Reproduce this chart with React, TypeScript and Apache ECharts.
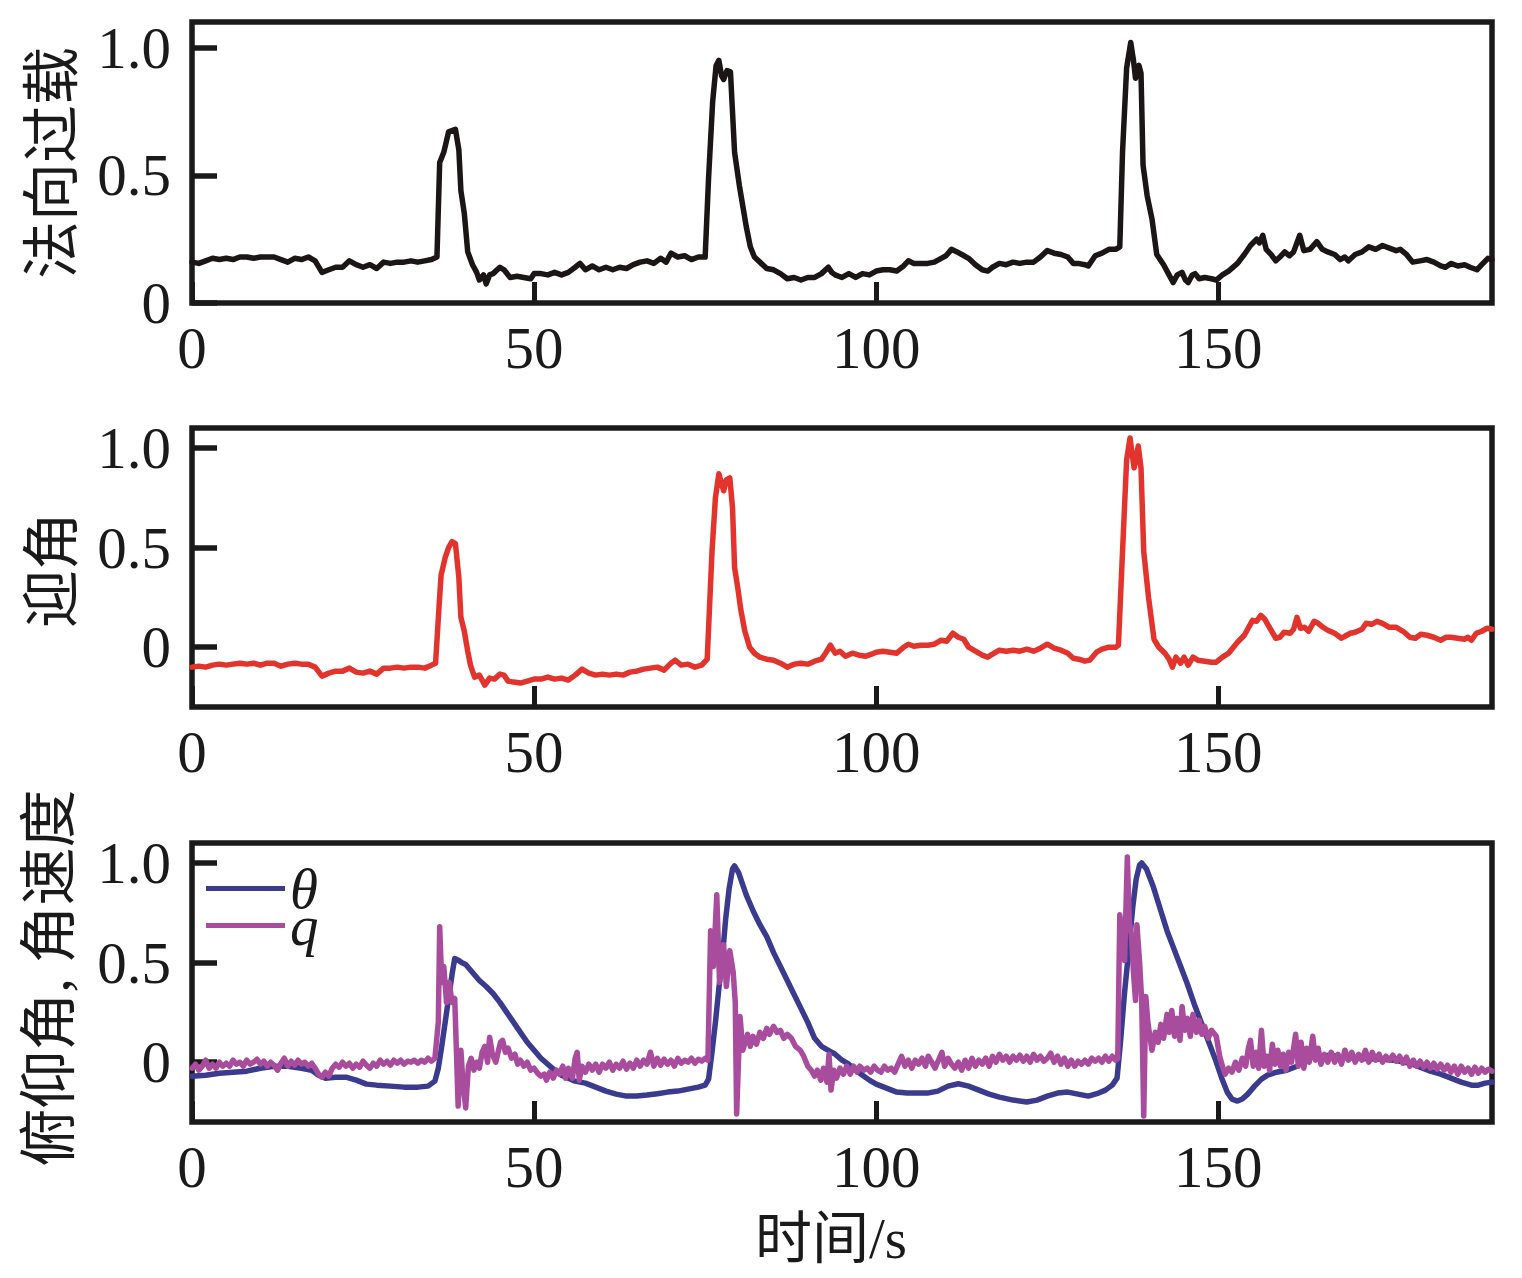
import React, { useEffect, useRef } from "react";
import * as echarts from "echarts";

const xTicks = [0, 50, 100, 150];
const yTicks = [0, 0.5, 1.0];
const panelTitles = ["法向过载", "迎角", "俯仰角, 角速度"];
const xTitle = "时间/s";
const legendNames = ["θ", "q"];

// 法向过载 (normal load)
const normalLoad: number[][] = [
  [0, 0.16], [1, 0.155], [2, 0.165], [3, 0.175], [4, 0.17], [5, 0.175], [6, 0.17], [7, 0.18], [8, 0.18], [9, 0.175],
  [10, 0.18], [11, 0.18], [12, 0.18], [13, 0.17], [14, 0.16], [15, 0.175], [16, 0.17], [17, 0.18], [18, 0.165], [19, 0.12],
  [20, 0.13], [21, 0.14], [22, 0.14], [23, 0.165], [24, 0.15], [25, 0.14], [26, 0.15], [27, 0.135], [28, 0.16], [29, 0.155],
  [30, 0.16], [31, 0.16], [32, 0.165], [33, 0.16], [34, 0.165], [35, 0.17], [35.8, 0.18], [36.2, 0.55], [36.8, 0.59], [37.5, 0.67],
  [38.5, 0.68], [39, 0.6], [39.3, 0.44], [39.8, 0.35], [40.3, 0.2], [41, 0.15], [41.6, 0.12], [42, 0.09], [42.6, 0.11], [43, 0.075],
  [43.5, 0.11], [44, 0.115], [45, 0.14], [45.6, 0.13], [46.5, 0.1], [47.5, 0.105], [48.5, 0.1], [49.5, 0.095], [50, 0.115], [51, 0.115],
  [52, 0.11], [53, 0.12], [54, 0.11], [55, 0.12], [56, 0.14], [56.7, 0.155], [57.5, 0.13], [58.5, 0.145], [59.5, 0.13], [60.5, 0.14],
  [61.5, 0.13], [62.5, 0.14], [63.5, 0.135], [64.5, 0.15], [65.5, 0.16], [66.5, 0.165], [67.5, 0.155], [68.5, 0.175], [69.3, 0.16], [70, 0.195],
  [71, 0.18], [72, 0.185], [73, 0.17], [74, 0.18], [75, 0.18], [75.5, 0.49], [76.1, 0.79], [76.6, 0.93], [77, 0.95], [77.4, 0.89],
  [77.7, 0.875], [78.2, 0.91], [78.7, 0.905], [79.3, 0.59], [80, 0.46], [80.5, 0.38], [81, 0.3], [81.6, 0.22], [82.2, 0.18], [83, 0.16],
  [84, 0.135], [85, 0.13], [86, 0.115], [87, 0.095], [88, 0.1], [89, 0.09], [90, 0.1], [91, 0.1], [92, 0.115], [93, 0.14],
  [93.5, 0.12], [94, 0.11], [95, 0.1], [96, 0.115], [97, 0.1], [98, 0.115], [99, 0.11], [100, 0.125], [101, 0.13], [102, 0.13],
  [103, 0.125], [104, 0.145], [104.7, 0.165], [105.5, 0.155], [106.5, 0.155], [107.5, 0.155], [108.5, 0.16], [109.5, 0.175], [110.2, 0.185], [111, 0.21],
  [111.8, 0.2], [112.5, 0.19], [113.5, 0.175], [114.5, 0.15], [115.5, 0.13], [116.3, 0.125], [117, 0.14], [118, 0.155], [119, 0.15], [120, 0.16],
  [121, 0.155], [122, 0.16], [123, 0.16], [124, 0.18], [125, 0.205], [126, 0.195], [127, 0.19], [128, 0.18], [128.8, 0.155], [129.5, 0.155],
  [130.5, 0.15], [131, 0.145], [132, 0.185], [133, 0.195], [134, 0.21], [135, 0.21], [135.6, 0.22], [136, 0.59], [136.6, 0.92], [137.2, 1.02],
  [137.6, 0.95], [137.9, 0.88], [138.4, 0.93], [138.7, 0.9], [139, 0.54], [139.6, 0.42], [140.3, 0.33], [141, 0.19], [142, 0.15], [142.6, 0.12],
  [143.4, 0.08], [144, 0.11], [144.7, 0.12], [145.2, 0.09], [145.6, 0.08], [146.2, 0.11], [146.6, 0.115], [147.2, 0.095], [148, 0.1], [149, 0.095],
  [149.7, 0.09], [150.6, 0.11], [151.5, 0.125], [152.8, 0.155], [153.8, 0.19], [154.7, 0.225], [155.6, 0.25], [156, 0.235], [156.5, 0.265], [157, 0.21],
  [157.7, 0.19], [158.4, 0.165], [159, 0.18], [159.7, 0.2], [160.4, 0.185], [161, 0.2], [161.9, 0.265], [162.5, 0.205], [163.4, 0.21], [164.4, 0.24],
  [165.2, 0.21], [166, 0.2], [167, 0.19], [167.8, 0.17], [168.5, 0.18], [169, 0.165], [170, 0.19], [171, 0.2], [172, 0.22], [173, 0.21],
  [174, 0.225], [175, 0.215], [176, 0.205], [176.6, 0.21], [177.5, 0.19], [178.4, 0.16], [179.5, 0.165], [180.5, 0.17], [181.5, 0.16], [182.5, 0.145],
  [183.2, 0.14], [184, 0.155], [185, 0.145], [186, 0.15], [186.8, 0.14], [187.8, 0.13], [188.5, 0.15], [189.4, 0.175], [190, 0.17],
];

// 迎角 (angle of attack)
const attackAngle: number[][] = [
  [0, -0.1], [1, -0.095], [2, -0.1], [3, -0.09], [4, -0.085], [5, -0.09], [6, -0.085], [7, -0.08], [8, -0.085], [9, -0.08],
  [10, -0.09], [11, -0.08], [12, -0.08], [13, -0.095], [14, -0.085], [15, -0.08], [16, -0.085], [17, -0.085], [18, -0.1], [19, -0.145],
  [20, -0.13], [21, -0.12], [22, -0.12], [23, -0.105], [24, -0.125], [25, -0.13], [26, -0.12], [27, -0.135], [28, -0.105], [29, -0.105],
  [30, -0.1], [31, -0.105], [32, -0.1], [33, -0.1], [34, -0.105], [35, -0.09], [35.6, -0.08], [36.1, 0.2], [36.4, 0.36], [37, 0.45],
  [37.5, 0.5], [38, 0.53], [38.5, 0.52], [39, 0.35], [39.3, 0.15], [39.8, 0.08], [40.3, -0.02], [40.7, -0.09], [41.3, -0.15], [42, -0.14],
  [42.8, -0.19], [43.5, -0.155], [44.2, -0.16], [45, -0.135], [45.6, -0.14], [46.2, -0.17], [47, -0.175], [48, -0.18], [49, -0.17], [50, -0.16],
  [51, -0.16], [52, -0.15], [53, -0.16], [54, -0.155], [55, -0.165], [56, -0.14], [57, -0.11], [58, -0.13], [59, -0.14], [60, -0.135],
  [61, -0.14], [62, -0.135], [63, -0.14], [64, -0.125], [65, -0.12], [66, -0.11], [67, -0.105], [68, -0.1], [69, -0.115], [70, -0.08],
  [70.6, -0.065], [71.5, -0.09], [72.5, -0.085], [73.5, -0.1], [74.5, -0.09], [75.3, -0.06], [76, 0.48], [76.5, 0.75], [77, 0.87], [77.4, 0.82],
  [77.7, 0.785], [78.1, 0.84], [78.6, 0.85], [79, 0.7], [79.3, 0.4], [79.8, 0.29], [80.2, 0.19], [80.8, 0.08], [81.5, 0.0], [82.2, -0.03],
  [83, -0.05], [84, -0.06], [85, -0.065], [86, -0.08], [87, -0.1], [88, -0.085], [89, -0.08], [90, -0.085], [91, -0.07], [92, -0.06],
  [92.6, -0.03], [93.3, 0.01], [94, -0.03], [94.7, -0.02], [95.5, -0.045], [96.5, -0.03], [97.5, -0.04], [98.5, -0.045], [99.3, -0.035], [100, -0.025],
  [101, -0.02], [102, -0.025], [103, -0.03], [104, 0.0], [104.7, 0.015], [105.5, 0.005], [106.5, 0.01], [107.5, 0.01], [108.5, 0.015], [109.5, 0.035],
  [110.3, 0.03], [111.2, 0.07], [112, 0.05], [112.8, 0.04], [113.5, 0.0], [114.5, -0.02], [115.5, -0.04], [116.3, -0.05], [117, -0.035], [118, -0.015],
  [119, -0.02], [120, -0.015], [121, -0.02], [122, -0.01], [123, -0.02], [124, -0.005], [125, 0.015], [126, -0.005], [127, -0.015], [128, -0.03],
  [128.8, -0.055], [129.6, -0.06], [130.5, -0.07], [131.2, -0.065], [132.2, -0.025], [133, -0.01], [134, 0.0], [135, 0.0], [135.4, 0.01], [136, 0.48],
  [136.6, 0.94], [137.1, 1.05], [137.4, 0.97], [137.7, 0.9], [138, 0.95], [138.3, 1.01], [138.7, 0.9], [139.1, 0.48], [139.8, 0.25], [140.6, 0.04],
  [141.3, 0.0], [142.2, -0.03], [142.8, -0.06], [143.3, -0.1], [143.8, -0.05], [144.5, -0.08], [145, -0.05], [145.6, -0.09], [146.3, -0.05], [147, -0.065],
  [148, -0.07], [149, -0.075], [149.7, -0.075], [150.6, -0.05], [151.5, -0.03], [152.8, 0.025], [153.8, 0.06], [155, 0.135], [155.6, 0.13], [156.2, 0.16],
  [156.8, 0.14], [157.3, 0.11], [158.4, 0.045], [159, 0.05], [159.6, 0.075], [160.5, 0.07], [161, 0.09], [161.5, 0.15], [162, 0.095], [162.6, 0.1],
  [163.2, 0.08], [164, 0.13], [164.6, 0.12], [165.3, 0.1], [166, 0.085], [167, 0.07], [168, 0.045], [168.5, 0.055], [169.3, 0.07], [170, 0.075],
  [171, 0.09], [171.6, 0.12], [172.4, 0.115], [173.2, 0.13], [174, 0.12], [175, 0.1], [176, 0.1], [177, 0.08], [178, 0.05], [178.8, 0.045],
  [179.6, 0.065], [180.5, 0.06], [181.5, 0.05], [182.5, 0.035], [183.3, 0.05], [184, 0.05], [185, 0.045], [186, 0.04], [186.5, 0.05], [187, 0.035],
  [187.7, 0.07], [188.5, 0.08], [189.3, 0.095], [190, 0.09],
];

// θ 俯仰角 (pitch angle)
const pitchAngle: number[][] = [
  [0, -0.07], [2, -0.065], [4, -0.055], [6, -0.05], [8, -0.045], [10, -0.03], [12, -0.02], [14, -0.02], [16, -0.03], [17.5, -0.04],
  [18.5, -0.065], [19.5, -0.08], [21, -0.075], [22.5, -0.075], [24, -0.09], [25.5, -0.11], [27, -0.115], [29, -0.12], [31, -0.125], [33, -0.125],
  [34.5, -0.12], [35.5, -0.095], [36, -0.03], [36.5, 0.08], [37, 0.2], [37.5, 0.32], [38, 0.44], [38.4, 0.52], [39, 0.51], [39.4, 0.5],
  [40, 0.49], [41, 0.45], [42, 0.41], [43, 0.38], [44, 0.345], [45, 0.3], [46, 0.25], [47, 0.2], [48, 0.15], [49, 0.1],
  [50, 0.06], [51, 0.02], [52, -0.01], [53, -0.04], [54, -0.065], [55, -0.08], [56, -0.095], [57.5, -0.105], [59, -0.125], [60.5, -0.145],
  [62, -0.16], [63.5, -0.17], [65, -0.17], [66.5, -0.165], [68, -0.158], [69.5, -0.15], [71, -0.145], [72.5, -0.135], [74, -0.125], [75, -0.115],
  [75.5, -0.085], [76, 0.05], [76.5, 0.2], [77, 0.37], [77.5, 0.52], [78, 0.72], [78.5, 0.87], [79, 0.97], [79.3, 0.985], [79.9, 0.95],
  [80.5, 0.89], [81, 0.84], [82, 0.76], [83, 0.69], [84, 0.63], [85, 0.55], [86, 0.48], [87, 0.41], [88, 0.34], [89, 0.27],
  [90, 0.2], [91, 0.12], [92, 0.08], [93, 0.06], [94, 0.04], [95, 0.01], [96, -0.01], [97, -0.04], [98, -0.065], [99, -0.09],
  [100, -0.11], [101.5, -0.13], [103, -0.15], [104.5, -0.155], [106, -0.155], [107.5, -0.155], [109, -0.145], [110.5, -0.12], [112, -0.108], [113.5, -0.12],
  [115, -0.14], [116.5, -0.16], [118, -0.175], [120, -0.19], [122, -0.2], [123.5, -0.19], [125, -0.17], [126.5, -0.155], [128, -0.15], [129.5, -0.16],
  [131, -0.17], [132.5, -0.155], [133.5, -0.14], [134.5, -0.115], [135.2, -0.08], [135.7, 0.1], [136.3, 0.35], [136.9, 0.56], [137.5, 0.78], [138, 0.92],
  [138.5, 0.99], [138.8, 1.0], [139.5, 0.97], [140.5, 0.88], [141.5, 0.77], [142.5, 0.66], [143.5, 0.57], [144.5, 0.48], [145.5, 0.39], [146.5, 0.29],
  [147.5, 0.2], [148.5, 0.11], [149.5, 0.02], [150.5, -0.08], [151.3, -0.15], [152, -0.185], [152.8, -0.195], [153.5, -0.185], [154.3, -0.16], [155.3, -0.12],
  [156.3, -0.085], [157.2, -0.065], [158.5, -0.05], [160, -0.04], [161.5, -0.02], [163, 0.02], [164.5, 0.03], [166.5, 0.035], [168, 0.025], [170, 0.02],
  [172, 0.018], [174, 0.015], [176, 0.008], [178, -0.005], [179.5, -0.025], [181, -0.045], [182.5, -0.06], [184, -0.08], [185.5, -0.1], [187, -0.115],
  [188, -0.115], [189, -0.105], [190, -0.1],
];

// q 角速度 (pitch rate)
const pitchRate: number[][] = [
  [0, -0.03], [0.5, -0.01], [1, -0.04], [1.5, -0.02], [2, 0.01], [2.5, -0.03], [3, -0.01], [3.5, -0.03], [4, 0.0], [4.5, -0.02],
  [5, -0.005], [5.5, -0.02], [6, 0.01], [6.5, -0.01], [7, 0.0], [7.5, -0.02], [8, 0.01], [8.5, -0.01], [9, 0.0], [9.5, 0.015],
  [10, -0.01], [10.5, 0.005], [11, -0.02], [11.5, 0.0], [12, -0.015], [12.5, -0.04], [13, -0.005], [13.5, 0.02], [14, -0.02], [14.5, 0.005],
  [15, -0.015], [15.5, 0.01], [16, -0.01], [16.5, 0.0], [17, -0.02], [17.5, -0.005], [18, -0.03], [18.5, -0.06], [19, -0.075], [19.5, -0.05],
  [20, -0.07], [20.5, -0.03], [21, -0.01], [21.5, -0.025], [22, 0.0], [22.5, -0.02], [23, -0.005], [23.5, -0.03], [24, -0.01], [24.5, -0.025],
  [25, 0.005], [25.5, -0.015], [26, -0.03], [26.5, -0.005], [27, -0.02], [27.5, 0.01], [28, -0.01], [28.5, 0.005], [29, -0.015], [29.5, 0.01],
  [30, -0.005], [30.5, 0.01], [31, -0.01], [31.5, 0.005], [32, 0.0], [32.5, 0.01], [33, -0.005], [33.5, 0.01], [34, 0.0], [34.5, 0.02],
  [35, 0.005], [35.5, 0.02], [36, 0.2], [36.2, 0.68], [36.5, 0.4], [36.8, 0.48], [37.2, 0.3], [37.6, 0.4], [38, 0.3], [38.4, 0.32],
  [38.9, -0.22], [39.3, 0.06], [39.6, -0.1], [40, -0.23], [40.4, -0.02], [40.8, 0.02], [41.2, -0.04], [41.6, 0.0], [42, -0.03], [42.4, 0.05],
  [42.8, 0.08], [43.2, 0.0], [43.5, 0.125], [43.9, 0.04], [44.4, 0.0], [44.8, 0.06], [45.1, 0.1], [45.4, 0.11], [45.8, 0.05], [46.2, 0.07],
  [46.7, 0.02], [47.2, 0.04], [47.6, -0.01], [48, 0.01], [48.5, -0.02], [49, 0.0], [49.5, -0.04], [50, -0.03], [50.5, -0.055], [51, -0.07],
  [51.5, -0.06], [51.8, -0.09], [52.3, -0.05], [52.8, -0.08], [53.3, -0.04], [53.7, -0.06], [54.2, -0.02], [54.6, -0.08], [55, -0.03], [55.6, -0.08],
  [56, 0.02], [56.3, 0.05], [56.6, -0.09], [57, -0.02], [57.5, -0.05], [58, -0.01], [58.5, -0.04], [59, -0.01], [59.5, -0.05], [60, -0.01],
  [60.5, -0.03], [61, 0.0], [61.5, -0.04], [62, -0.01], [62.5, -0.03], [63, 0.005], [63.5, -0.035], [64, -0.005], [64.5, -0.03], [65, 0.01],
  [65.5, -0.02], [66, 0.01], [66.5, -0.01], [67, 0.05], [67.5, -0.02], [68, 0.02], [68.5, -0.015], [69, 0.015], [69.5, -0.01], [70, 0.01],
  [70.5, -0.02], [71, 0.02], [71.5, -0.005], [72, 0.01], [72.5, 0.0], [73, 0.02], [73.5, -0.005], [74, 0.015], [74.5, 0.005], [75, 0.02],
  [75.4, 0.01], [75.8, 0.66], [76.2, 0.48], [76.7, 0.84], [77.1, 0.4], [77.7, 0.59], [78.1, 0.38], [78.6, 0.56], [79.1, 0.45], [79.4, 0.3],
  [79.6, -0.26], [80.1, 0.23], [80.5, 0.06], [81.2, 0.14], [81.6, 0.08], [82, 0.13], [82.5, 0.09], [83, 0.15], [83.5, 0.12], [84, 0.17],
  [84.4, 0.14], [85, 0.18], [85.5, 0.15], [86, 0.16], [86.5, 0.12], [87, 0.14], [87.6, 0.12], [88.2, 0.08], [88.9, 0.06], [89.4, 0.03],
  [90, -0.02], [90.5, -0.04], [91, -0.07], [91.4, -0.04], [91.9, -0.09], [92.3, -0.03], [92.8, -0.1], [93.1, 0.04], [93.4, -0.14], [93.8, -0.04],
  [94.2, -0.08], [94.7, -0.03], [95.2, -0.06], [95.7, -0.02], [96.2, -0.06], [96.7, -0.02], [97.2, -0.05], [97.6, -0.02], [98.2, -0.04], [98.7, -0.03],
  [99.2, -0.05], [99.7, -0.02], [100.2, -0.04], [100.7, -0.05], [101.2, -0.02], [101.7, -0.04], [102.2, -0.03], [102.7, -0.05], [103.2, -0.01], [103.7, 0.03],
  [104.2, -0.02], [104.7, 0.01], [105.2, -0.03], [105.7, 0.01], [106.2, -0.01], [106.7, 0.02], [107.2, -0.02], [107.6, 0.03], [108.1, 0.0], [108.6, -0.03],
  [109.1, 0.01], [109.6, 0.05], [110, -0.02], [110.5, 0.02], [111, -0.01], [111.5, -0.03], [112, 0.0], [112.5, -0.04], [113, 0.01], [113.5, -0.03],
  [114, 0.02], [114.5, -0.02], [115, 0.01], [115.5, -0.01], [116, 0.02], [116.5, -0.02], [117, 0.03], [117.5, 0.0], [118, 0.04], [118.5, 0.01],
  [119, 0.03], [119.5, 0.0], [120, 0.03], [120.5, 0.01], [121, 0.035], [121.5, 0.005], [122, 0.03], [122.5, 0.0], [123, 0.04], [123.5, 0.01],
  [124, 0.03], [124.5, 0.005], [125, 0.02], [125.5, 0.045], [126, 0.0], [126.5, 0.03], [127, -0.01], [127.5, 0.02], [128, -0.02], [128.5, 0.01],
  [129, -0.02], [129.5, 0.005], [130, -0.01], [130.5, 0.01], [131, -0.01], [131.5, 0.02], [132, 0.005], [132.5, 0.02], [133, 0.0], [133.5, 0.03],
  [134, 0.005], [134.5, 0.03], [135, 0.01], [135.3, 0.02], [135.6, 0.74], [136, 0.6], [136.3, 0.51], [136.7, 1.03], [137, 0.7], [137.3, 0.64],
  [137.6, 0.45], [137.9, 0.31], [138.1, 0.69], [138.5, 0.5], [138.8, 0.31], [139.1, -0.27], [139.4, 0.33], [139.7, 0.2], [140.3, 0.06], [140.8, 0.15],
  [141.2, 0.1], [141.6, 0.19], [142, 0.12], [142.5, 0.24], [142.8, 0.15], [143.2, 0.26], [143.6, 0.13], [144, 0.22], [144.4, 0.11], [144.7, 0.28],
  [145.1, 0.16], [145.5, 0.22], [145.9, 0.13], [146.3, 0.24], [146.8, 0.15], [147.2, 0.21], [147.6, 0.14], [148, 0.18], [148.5, 0.12], [149, 0.16],
  [149.7, 0.13], [150.2, 0.03], [150.6, -0.02], [151, -0.06], [151.5, -0.03], [152, -0.05], [152.5, 0.0], [153, -0.04], [153.5, 0.02], [154, -0.02],
  [154.4, 0.07], [154.7, 0.11], [155.1, -0.02], [155.5, 0.05], [155.9, -0.03], [156.3, 0.16], [156.7, -0.02], [157.1, 0.03], [157.5, -0.04], [157.9, 0.09],
  [158.3, -0.01], [158.7, 0.06], [159.1, -0.02], [159.5, 0.04], [159.9, -0.04], [160.3, 0.05], [160.7, 0.0], [161.3, 0.14], [161.7, -0.02], [162.1, 0.1],
  [162.5, -0.03], [162.9, 0.07], [163.3, 0.0], [163.8, 0.13], [164.2, 0.01], [164.6, 0.07], [165, -0.01], [165.5, 0.04], [166, 0.0], [166.5, 0.05],
  [167, 0.0], [167.5, 0.04], [168, -0.01], [168.5, 0.06], [169, 0.01], [169.5, 0.05], [170, 0.0], [170.5, 0.04], [171, 0.01], [171.5, 0.06],
  [172, 0.0], [172.5, 0.05], [173, 0.01], [173.5, 0.04], [174, 0.0], [174.5, 0.03], [175, 0.01], [175.5, 0.035], [176, 0.005], [176.5, 0.03],
  [177, -0.005], [177.5, 0.025], [178, -0.02], [178.5, 0.01], [179, -0.02], [179.5, 0.005], [180, -0.025], [180.5, 0.0], [181, -0.03], [181.5, -0.005],
  [182, -0.035], [182.5, -0.01], [183, -0.04], [183.5, -0.015], [184, -0.05], [184.5, -0.02], [185, -0.06], [185.5, -0.02], [186, -0.05], [186.5, -0.03],
  [187, -0.06], [187.5, -0.025], [188, -0.055], [188.5, -0.03], [189, -0.05], [189.5, -0.035], [190, -0.045],
];

const FONT = "'Liberation Serif', 'Times New Roman', 'Noto Sans CJK SC', serif";
const INK = "#1a1a1a";
const COLORS = { nz: "#1b1515", alpha: "#e2332c", theta: "#3a3b8e", q: "#a94c9e" };

export default function App() {
  const ref = useRef<HTMLDivElement>(null);

  useEffect(() => {
    if (!ref.current) return;
    const chart = echarts.init(ref.current, undefined, { renderer: "svg" });

    const grids = [
      { left: 192, top: 22, width: 1300, height: 281 },
      { left: 192, top: 428, width: 1300, height: 279 },
      { left: 192, top: 843, width: 1300, height: 279 },
    ];
    const yRanges = [
      [0, 1.1],
      [-0.3, 1.1],
      [-0.3, 1.1],
    ];

    const line = (name: string, idx: number, data: number[][], color: string) => ({
      type: "line",
      name,
      xAxisIndex: idx,
      yAxisIndex: idx,
      data,
      showSymbol: false,
      symbol: "none",
      lineStyle: { color, width: 5.5, cap: "round", join: "round" },
      itemStyle: { color },
    });

    const title = (text: string, x: number, y: number, rot: number, size: number) => ({
      type: "text",
      x,
      y,
      rotation: rot,
      style: {
        text,
        fontFamily: FONT,
        fontSize: size,
        fill: INK,
        align: "center",
        verticalAlign: "middle",
      },
    });

    const option: any = {
      animation: false,
      backgroundColor: "#ffffff",
      grid: grids.map((g) => ({
        ...g,
        show: true,
        borderColor: INK,
        borderWidth: 5.5,
        backgroundColor: "transparent",
        containLabel: false,
      })),
      xAxis: grids.map((_, i) => ({
        type: "value",
        gridIndex: i,
        min: 0,
        max: 190,
        axisLine: { show: false, onZero: false },
        splitLine: { show: false },
        axisTick: {
          show: true,
          inside: true,
          length: 21,
          customValues: xTicks,
          lineStyle: { color: INK, width: 5 },
        },
        axisLabel: {
          show: true,
          customValues: xTicks,
          margin: 15,
          fontFamily: FONT,
          fontSize: 59,
          color: INK,
        },
      })),
      yAxis: grids.map((_, i) => ({
        type: "value",
        gridIndex: i,
        min: yRanges[i][0],
        max: yRanges[i][1],
        axisLine: { show: false, onZero: false },
        splitLine: { show: false },
        axisTick: {
          show: true,
          inside: true,
          length: 25,
          customValues: yTicks,
          lineStyle: { color: INK, width: 5.5 },
        },
        axisLabel: {
          show: true,
          customValues: yTicks,
          margin: 21,
          fontFamily: FONT,
          fontSize: 59,
          color: INK,
          formatter: (v: number) => (v === 0 ? "0" : v.toFixed(1)),
        },
      })),
      legend: {
        show: true,
        orient: "vertical",
        left: 206,
        top: 860,
        padding: 0,
        itemGap: -20,
        itemWidth: 79,
        itemHeight: 5,
        icon: "rect",
        data: legendNames,
        textStyle: {
          fontFamily: FONT,
          fontStyle: "italic",
          fontSize: 57,
          color: INK,
        },
      },
      series: [
        line("nz", 0, normalLoad, COLORS.nz),
        line("alpha", 1, attackAngle, COLORS.alpha),
        line(legendNames[0], 2, pitchAngle, COLORS.theta),
        line(legendNames[1], 2, pitchRate, COLORS.q),
      ],
      graphic: [
        title(panelTitles[0], 52, 163, Math.PI / 2, 58),
        title(panelTitles[1], 52, 570, Math.PI / 2, 58),
        title(panelTitles[2], 49, 978, Math.PI / 2, 58),
        title(xTitle, 831, 1238, 0, 57),
      ],
    };

    chart.setOption(option);
    return () => chart.dispose();
  }, []);

  return (
    <div
      ref={ref}
      style={{ position: "absolute", left: 0, top: 0, width: 1522, height: 1278, background: "#fff" }}
    />
  );
}
